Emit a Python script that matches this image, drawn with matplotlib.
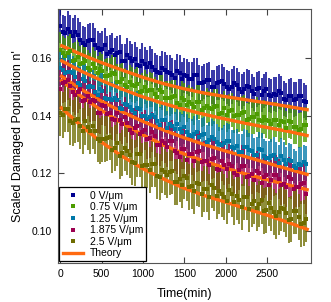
import numpy as np
import matplotlib.pyplot as plt
from matplotlib.lines import Line2D

plt.rcParams['font.family'] = ['Liberation Sans', 'DejaVu Sans']

# Measured data: time (min) and scaled damaged population per field
t_data = np.arange(0, 3000, 30)

n_0 = [0.1711, 0.1691, 0.1687, 0.1702, 0.1690, 0.1678, 0.1690, 0.1680, 0.1664, 0.1652,
       0.1647, 0.1659, 0.1662, 0.1663, 0.1646, 0.1635, 0.1627, 0.1633, 0.1645, 0.1615,
       0.1620, 0.1627, 0.1609, 0.1617, 0.1620, 0.1590, 0.1590, 0.1609, 0.1600, 0.1590,
       0.1597, 0.1577, 0.1573, 0.1591, 0.1578, 0.1568, 0.1583, 0.1570, 0.1559, 0.1550,
       0.1548, 0.1565, 0.1560, 0.1552, 0.1549, 0.1540, 0.1532, 0.1555, 0.1549, 0.1527,
       0.1540, 0.1537, 0.1527, 0.1526, 0.1541, 0.1540, 0.1515, 0.1512, 0.1518, 0.1524,
       0.1525, 0.1500, 0.1498, 0.1513, 0.1516, 0.1519, 0.1510, 0.1499, 0.1494, 0.1501,
       0.1513, 0.1506, 0.1493, 0.1484, 0.1493, 0.1503, 0.1500, 0.1486, 0.1476, 0.1491,
       0.1496, 0.1472, 0.1486, 0.1493, 0.1472, 0.1469, 0.1475, 0.1473, 0.1485, 0.1479,
       0.1459, 0.1454, 0.1468, 0.1470, 0.1456, 0.1458, 0.1469, 0.1469, 0.1452, 0.1446]
n_075 = [0.1629, 0.1618, 0.1608, 0.1616, 0.1623, 0.1591, 0.1595, 0.1602, 0.1581, 0.1584,
         0.1589, 0.1567, 0.1558, 0.1579, 0.1566, 0.1548, 0.1563, 0.1554, 0.1537, 0.1539,
         0.1540, 0.1549, 0.1544, 0.1518, 0.1518, 0.1526, 0.1506, 0.1499, 0.1517, 0.1508,
         0.1503, 0.1510, 0.1483, 0.1487, 0.1500, 0.1486, 0.1490, 0.1489, 0.1475, 0.1464,
         0.1488, 0.1481, 0.1460, 0.1461, 0.1460, 0.1465, 0.1467, 0.1444, 0.1438, 0.1463,
         0.1454, 0.1438, 0.1447, 0.1441, 0.1429, 0.1446, 0.1447, 0.1420, 0.1426, 0.1435,
         0.1426, 0.1423, 0.1431, 0.1433, 0.1407, 0.1410, 0.1426, 0.1404, 0.1415, 0.1420,
         0.1400, 0.1401, 0.1403, 0.1408, 0.1413, 0.1385, 0.1387, 0.1396, 0.1395, 0.1405,
         0.1384, 0.1382, 0.1396, 0.1384, 0.1380, 0.1370, 0.1386, 0.1386, 0.1369, 0.1380,
         0.1377, 0.1357, 0.1382, 0.1378, 0.1361, 0.1362, 0.1349, 0.1353, 0.1368, 0.1369]
n_125 = [0.1564, 0.1558, 0.1547, 0.1551, 0.1553, 0.1547, 0.1533, 0.1515, 0.1508, 0.1526,
         0.1520, 0.1501, 0.1504, 0.1499, 0.1484, 0.1472, 0.1492, 0.1487, 0.1461, 0.1457,
         0.1458, 0.1456, 0.1460, 0.1456, 0.1427, 0.1425, 0.1440, 0.1436, 0.1429, 0.1420,
         0.1408, 0.1426, 0.1422, 0.1400, 0.1398, 0.1390, 0.1394, 0.1403, 0.1396, 0.1381,
         0.1369, 0.1385, 0.1385, 0.1358, 0.1371, 0.1366, 0.1354, 0.1372, 0.1354, 0.1345,
         0.1361, 0.1345, 0.1333, 0.1328, 0.1338, 0.1342, 0.1325, 0.1333, 0.1335, 0.1308,
         0.1317, 0.1327, 0.1320, 0.1310, 0.1301, 0.1299, 0.1307, 0.1314, 0.1311, 0.1292,
         0.1289, 0.1295, 0.1275, 0.1275, 0.1293, 0.1291, 0.1280, 0.1278, 0.1264, 0.1265,
         0.1284, 0.1280, 0.1261, 0.1252, 0.1252, 0.1261, 0.1265, 0.1249, 0.1237, 0.1262,
         0.1248, 0.1233, 0.1247, 0.1243, 0.1225, 0.1218, 0.1232, 0.1230, 0.1238, 0.1234]
n_1875 = [0.1491, 0.1513, 0.1516, 0.1524, 0.1503, 0.1482, 0.1471, 0.1481, 0.1494, 0.1451,
          0.1455, 0.1470, 0.1449, 0.1453, 0.1452, 0.1409, 0.1408, 0.1437, 0.1434, 0.1407,
          0.1411, 0.1387, 0.1384, 0.1408, 0.1384, 0.1371, 0.1395, 0.1374, 0.1350, 0.1340,
          0.1357, 0.1363, 0.1335, 0.1342, 0.1351, 0.1320, 0.1322, 0.1343, 0.1328, 0.1298,
          0.1297, 0.1312, 0.1307, 0.1293, 0.1313, 0.1314, 0.1279, 0.1269, 0.1257, 0.1285,
          0.1286, 0.1247, 0.1268, 0.1266, 0.1244, 0.1274, 0.1277, 0.1240, 0.1242, 0.1242,
          0.1230, 0.1249, 0.1254, 0.1214, 0.1211, 0.1243, 0.1230, 0.1216, 0.1233, 0.1225,
          0.1201, 0.1194, 0.1212, 0.1227, 0.1225, 0.1189, 0.1190, 0.1197, 0.1177, 0.1207,
          0.1202, 0.1167, 0.1186, 0.1194, 0.1161, 0.1176, 0.1193, 0.1194, 0.1181, 0.1160,
          0.1163, 0.1152, 0.1186, 0.1180, 0.1147, 0.1152, 0.1153, 0.1164, 0.1165, 0.1128]
n_25 = [0.1411, 0.1402, 0.1424, 0.1423, 0.1380, 0.1375, 0.1386, 0.1388, 0.1363, 0.1347,
        0.1380, 0.1361, 0.1346, 0.1363, 0.1348, 0.1321, 0.1311, 0.1318, 0.1320, 0.1322,
        0.1325, 0.1282, 0.1287, 0.1305, 0.1261, 0.1272, 0.1287, 0.1276, 0.1265, 0.1240,
        0.1236, 0.1268, 0.1266, 0.1225, 0.1228, 0.1229, 0.1213, 0.1234, 0.1234, 0.1191,
        0.1188, 0.1213, 0.1205, 0.1193, 0.1205, 0.1207, 0.1170, 0.1170, 0.1180, 0.1159,
        0.1190, 0.1184, 0.1153, 0.1155, 0.1140, 0.1166, 0.1162, 0.1127, 0.1145, 0.1146,
        0.1119, 0.1159, 0.1150, 0.1122, 0.1138, 0.1128, 0.1119, 0.1104, 0.1141, 0.1130,
        0.1102, 0.1120, 0.1106, 0.1083, 0.1118, 0.1118, 0.1075, 0.1094, 0.1104, 0.1079,
        0.1094, 0.1106, 0.1069, 0.1074, 0.1098, 0.1081, 0.1065, 0.1052, 0.1066, 0.1079,
        0.1075, 0.1061, 0.1037, 0.1043, 0.1069, 0.1069, 0.1050, 0.1025, 0.1027, 0.1041]

# error bar half-widths per series
err = [0.006, 0.006, 0.006, 0.007, 0.008]

# Theory curves
t_theory = np.arange(0, 3001, 250)
th_0 = [0.1645, 0.1613, 0.1584, 0.1558, 0.1533, 0.1511, 0.1493, 0.1478, 0.1466, 0.1455, 0.1444, 0.1432, 0.1420]
th_075 = [0.1593, 0.1555, 0.1522, 0.1492, 0.1465, 0.1442, 0.1422, 0.1404, 0.1388, 0.1373, 0.1359, 0.1346, 0.1330]
th_125 = [0.1540, 0.1492, 0.1450, 0.1413, 0.1380, 0.1350, 0.1323, 0.1299, 0.1277, 0.1257, 0.1236, 0.1215, 0.1195]
th_1875 = [0.1525, 0.1468, 0.1418, 0.1374, 0.1333, 0.1298, 0.1267, 0.1241, 0.1218, 0.1197, 0.1178, 0.1160, 0.1142]
th_25 = [0.1431, 0.1365, 0.1308, 0.1259, 0.1216, 0.1180, 0.1148, 0.1122, 0.1100, 0.1077, 0.1055, 0.1030, 0.1004]

labels = ['0 V/\u03bcm', '0.75 V/\u03bcm', '1.25 V/\u03bcm', '1.875 V/\u03bcm', '2.5 V/\u03bcm']
colors = ['#000090', '#4c9c00', '#0078a8', '#9c0050', '#6e6c00']
series = [n_0, n_075, n_125, n_1875, n_25]
theory = [th_0, th_075, th_125, th_1875, th_25]

fig = plt.figure(figsize=(3.31, 3.02), dpi=100)
ax = fig.add_axes([0.175, 0.129, 0.765, 0.841])

for y, e, c in zip(series, err, colors):
    ax.errorbar(t_data, y, yerr=e, fmt='s', color=c, ms=2.2, mew=0,
                elinewidth=1.1, capsize=2.3, capthick=1.0, ecolor=c)

for th in theory:
    ax.plot(t_theory, th, color='#ff6a10', lw=2.4, solid_capstyle='butt')

ax.set_xlim(-28, 3029)
ax.set_ylim(0.0889, 0.1770)
ax.set_xticks([0, 500, 1000, 1500, 2000, 2500])
ax.set_yticks([0.10, 0.12, 0.14, 0.16])
ax.set_yticklabels(['0.10', '0.12', '0.14', '0.16'])
ax.tick_params(direction='in', length=4, width=0.8, labelsize=7.5, top=True, right=True,
               color='#444444', pad=4)
for s in ax.spines.values():
    s.set_color('#555555')
    s.set_linewidth(0.8)

ax.set_xlabel('Time(min)', fontsize=9, labelpad=7)
ax.set_ylabel("Scaled Damaged Population n'", fontsize=9, labelpad=6)

handles = [Line2D([], [], ls='none', marker='s', ms=3.5, mew=0, color=c) for c in colors]
handles.append(Line2D([], [], color='#ff6a10', lw=2.4))
leg = ax.legend(handles, labels + ['Theory'], loc='lower left', fontsize=7.5,
                frameon=True, fancybox=False, edgecolor='black', framealpha=1,
                borderaxespad=0.15, labelspacing=0.15, handlelength=2.0,
                handletextpad=0.6, borderpad=0.3)
leg.get_frame().set_linewidth(0.9)

fig.savefig('out.png', dpi=100)
